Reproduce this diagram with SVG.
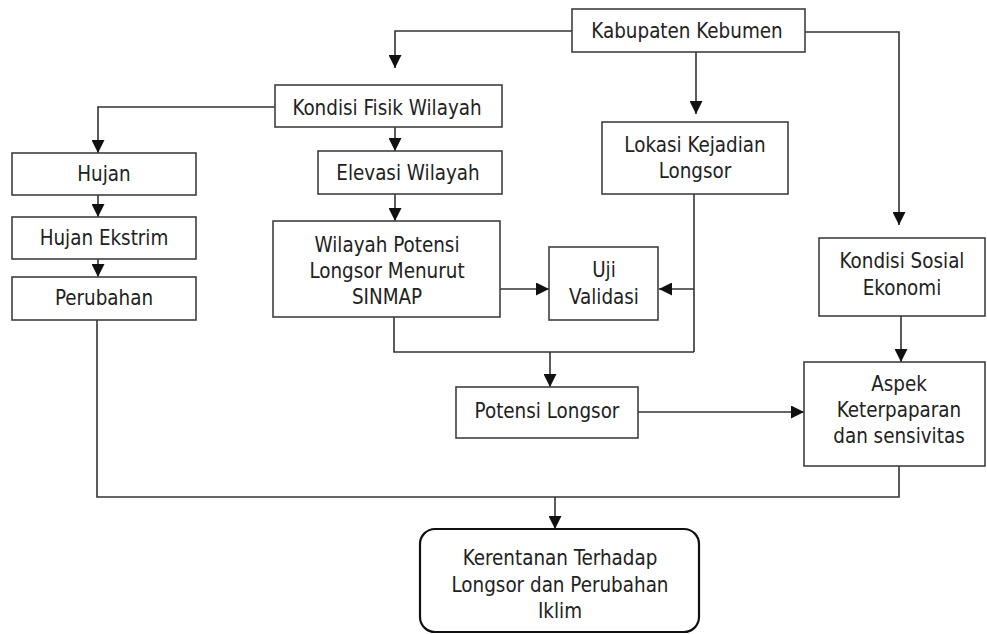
<svg xmlns="http://www.w3.org/2000/svg" width="987" height="634" viewBox="0 0 987 634">
  <style>
    .box { fill: #ffffff; stroke: #404040; stroke-width: 1.6; }
    .final { fill: #ffffff; stroke: #111111; stroke-width: 2.2; }
    .lbl { font-family: "DejaVu Sans Condensed", "DejaVu Sans", sans-serif; font-stretch: condensed; font-size: 20.4px; fill: #222222; text-anchor: middle; }
    .con { fill: none; stroke: #333333; stroke-width: 1.6; }
    .arr { marker-end: url(#ah); }
  </style>
  <defs>
    <marker id="ah" markerUnits="userSpaceOnUse" markerWidth="13" markerHeight="13" refX="13" refY="6.5" orient="auto">
      <path d="M0,0 L13,6.5 L0,13 z" fill="#111111"/>
    </marker>
  </defs>
  <rect width="987" height="634" fill="#ffffff"/>

  <g id="connectors">
    <path class="con arr" d="M572,31 H395 V68"/>
    <path class="con arr" d="M696,52 V114"/>
    <path class="con arr" d="M805,32 H899 V225"/>
    <path class="con arr" d="M275,107 H98 V153"/>
    <path class="con arr" d="M395,127 V151"/>
    <path class="con arr" d="M98,195 V217"/>
    <path class="con arr" d="M98,259 V277"/>
    <path class="con arr" d="M395,194 V221"/>
    <path class="con arr" d="M500,289 H549"/>
    <path class="con" d="M694,194 V352"/>
    <path class="con arr" d="M694,289 H659"/>
    <path class="con" d="M394,317 V352 H694"/>
    <path class="con arr" d="M550,352 V387"/>
    <path class="con arr" d="M638,412 H804"/>
    <path class="con arr" d="M901,316 V362"/>
    <path class="con" d="M899,466 V497 H97 V320"/>
    <path class="con arr" d="M555,497 V529"/>
  </g>

  <g id="kabupaten">
    <rect class="box" x="572" y="9" width="233" height="43"/>
    <text class="lbl" x="687" y="38">Kabupaten Kebumen</text>
  </g>
  <g id="kondisi-fisik">
    <rect class="box" x="275" y="85" width="227" height="42"/>
    <text class="lbl" x="387" y="115">Kondisi Fisik Wilayah</text>
  </g>
  <g id="hujan">
    <rect class="box" x="12" y="153" width="184" height="42"/>
    <text class="lbl" x="104" y="181">Hujan</text>
  </g>
  <g id="hujan-ekstrim">
    <rect class="box" x="12" y="217" width="184" height="42"/>
    <text class="lbl" x="104" y="245">Hujan Ekstrim</text>
  </g>
  <g id="perubahan">
    <rect class="box" x="12" y="277" width="184" height="43"/>
    <text class="lbl" x="104" y="305">Perubahan</text>
  </g>
  <g id="elevasi">
    <rect class="box" x="318" y="151" width="184" height="43"/>
    <text class="lbl" x="408" y="180">Elevasi Wilayah</text>
  </g>
  <g id="wilayah-potensi">
    <rect class="box" x="273" y="221" width="227" height="96"/>
    <text class="lbl" x="387" y="252">Wilayah Potensi</text>
    <text class="lbl" x="387" y="278">Longsor Menurut</text>
    <text class="lbl" x="387" y="304">SINMAP</text>
  </g>
  <g id="lokasi">
    <rect class="box" x="602" y="122" width="186" height="72"/>
    <text class="lbl" x="695" y="152">Lokasi Kejadian</text>
    <text class="lbl" x="695" y="178">Longsor</text>
  </g>
  <g id="uji-validasi">
    <rect class="box" x="549" y="247" width="109" height="73"/>
    <text class="lbl" x="604" y="277">Uji</text>
    <text class="lbl" x="604" y="304">Validasi</text>
  </g>
  <g id="kondisi-sosial">
    <rect class="box" x="819" y="238" width="166" height="78"/>
    <text class="lbl" x="902" y="268">Kondisi Sosial</text>
    <text class="lbl" x="902" y="295">Ekonomi</text>
  </g>
  <g id="potensi-longsor">
    <rect class="box" x="456" y="387" width="182" height="51"/>
    <text class="lbl" x="547" y="418">Potensi Longsor</text>
  </g>
  <g id="aspek">
    <rect class="box" x="804" y="362" width="181" height="104"/>
    <text class="lbl" x="899" y="391">Aspek</text>
    <text class="lbl" x="899" y="417">Keterpaparan</text>
    <text class="lbl" x="899" y="443">dan sensivitas</text>
  </g>
  <g id="kerentanan">
    <rect class="final" x="420" y="529" width="279" height="103" rx="15" ry="15"/>
    <text class="lbl" x="560" y="565">Kerentanan Terhadap</text>
    <text class="lbl" x="560" y="592">Longsor dan Perubahan</text>
    <text class="lbl" x="560" y="618">Iklim</text>
  </g>
</svg>
